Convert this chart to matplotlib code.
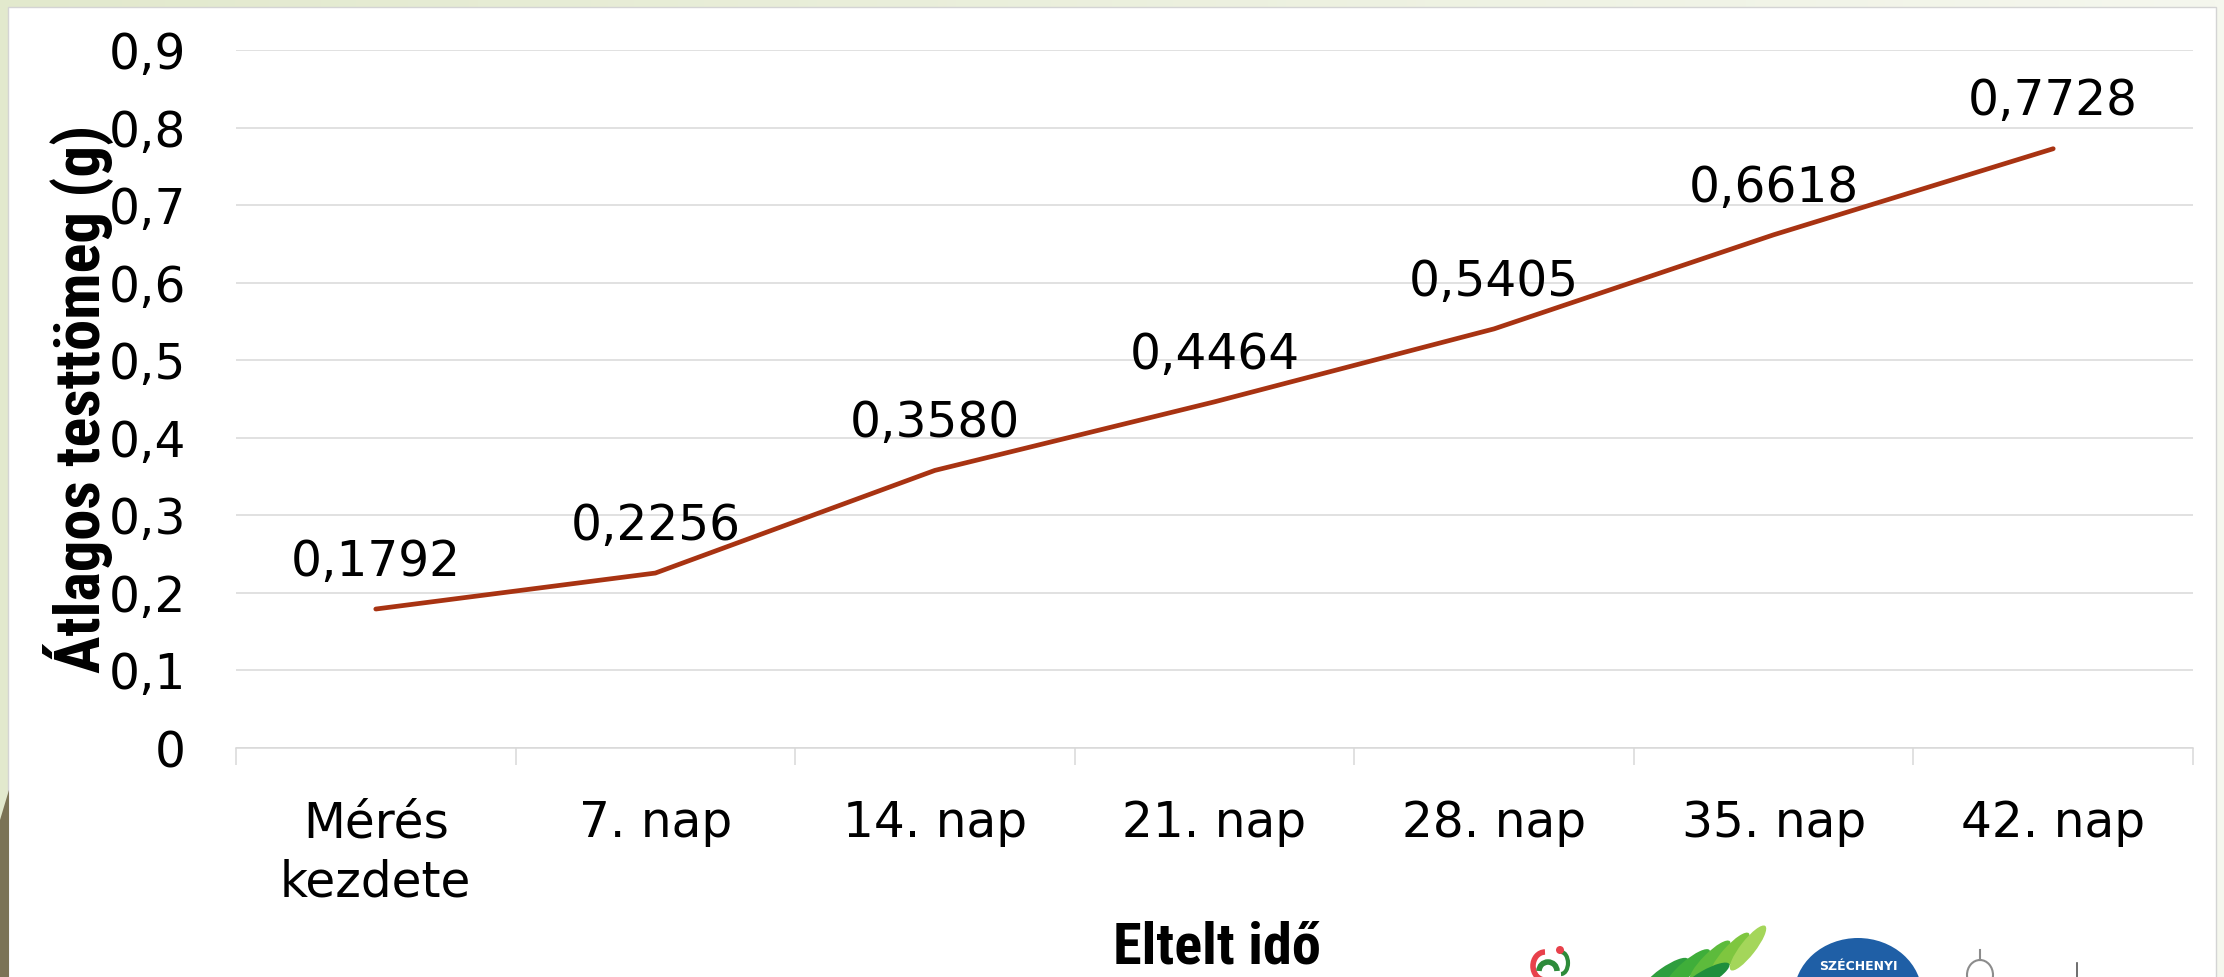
import matplotlib
matplotlib.use("Agg")
import matplotlib.pyplot as plt
import numpy as np
from matplotlib import font_manager
from matplotlib.colors import LinearSegmentedColormap
from matplotlib.patches import Ellipse, Polygon, Rectangle, Arc
from matplotlib.ticker import FixedLocator, FuncFormatter

# --- data -------------------------------------------------------------------
categories = ["Mérés\nkezdete", "7. nap", "14. nap", "21. nap",
              "28. nap", "35. nap", "42. nap"]
mean_weight = [0.1792, 0.2256, 0.3580, 0.4464, 0.5405, 0.6618, 0.7728]
y_ticks = [0.0, 0.1, 0.2, 0.3, 0.4, 0.5, 0.6, 0.7, 0.8, 0.9]

y_title = "Átlagos testtömeg (g)"
x_title = "Eltelt idő"

# --- fonts ------------------------------------------------------------------
body_font = "DejaVu Sans"


def pick_narrow_bold():
    """Return (FontProperties kwargs, size scale) for a condensed bold face."""
    names = {f.name for f in font_manager.fontManager.ttflist}
    for fam in ("Liberation Sans Narrow", "Roboto Condensed",
                "Open Sans Condensed", "DejaVu Sans Condensed"):
        if fam in names:
            return {"family": [fam, "DejaVu Sans"]}, 1.0
    fp = font_manager.FontProperties(family="DejaVu Sans", weight="bold",
                                     stretch="condensed")
    path = font_manager.findfont(fp, fallback_to_default=True)
    if "Condensed" in path:
        return {"family": ["DejaVu Sans"], "fontstretch": "condensed"}, 1.0
    return {"family": ["DejaVu Sans"]}, 0.83


narrow_kw, narrow_scale = pick_narrow_bold()

W, H = 2224, 977
fig = plt.figure(figsize=(W / 100, H / 100), dpi=100)

# --- slide background (pixel coordinates, y down) ----------------------------
deco = fig.add_axes([0, 0, 1, 1], zorder=0)
deco.set_xlim(0, W)
deco.set_ylim(H, 0)
deco.axis("off")

bg = LinearSegmentedColormap.from_list("bg", ["#E2E9CD", "#F5F7EE"])
deco.imshow(np.linspace(0, 1, 256)[None, :], cmap=bg, aspect="auto",
            extent=(0, W, H, 0), zorder=0)
deco.add_patch(Rectangle((8, 7), 2208, H, facecolor="white",
                         edgecolor="#D4D4D4", linewidth=1.0, zorder=1))
deco.add_patch(Polygon([(0, 820), (9, 790), (9, H), (0, H)],
                       closed=True, facecolor="#7B7355", edgecolor="none", zorder=2))

# logo strip along the bottom edge
deco.add_patch(Arc((1545, 966), 24, 28, theta1=90, theta2=270,
                   color="#E8414B", linewidth=4, zorder=3))
deco.add_patch(Arc((1548, 971), 18, 18, theta1=180, theta2=360,
                   color="#2E8B3A", linewidth=4, zorder=3))
deco.add_patch(Arc((1561, 963), 14, 22, theta1=-90, theta2=90,
                   color="#2E8B3A", linewidth=3, zorder=3))
deco.add_patch(Ellipse((1560, 950), 8, 8, facecolor="#E8414B",
                       edgecolor="none", zorder=3))
for cx, cy, ang, col in [(1665, 975, 35, "#2E9E3E"), (1688, 968, 40, "#3FAE3A"),
                         (1710, 961, 45, "#5DBB3C"), (1730, 954, 48, "#7EC63F"),
                         (1748, 948, 52, "#A4D65A"), (1705, 978, 30, "#1F8E3C")]:
    deco.add_patch(Ellipse((cx, cy), 56, 15, angle=-ang, facecolor=col,
                           edgecolor="none", zorder=3))
deco.add_patch(Ellipse((1858, 995), 128, 114, facecolor="#1F5FA6",
                       edgecolor="none", zorder=3))
deco.text(1858, 966, "SZÉCHENYI", color="white", fontsize=9, fontweight="bold",
          ha="center", va="center", zorder=4)
deco.add_patch(Ellipse((1980, 975), 26, 30, facecolor="none",
                       edgecolor="#8C8C8C", linewidth=1.5, zorder=3))
deco.plot([1980, 1980], [950, 960], color="#8C8C8C", linewidth=1.5, zorder=3)
deco.plot([2077, 2077], [963, H], color="#555555", linewidth=1.2, zorder=3)

# --- chart ------------------------------------------------------------------
ax = fig.add_axes([236 / W, 1 - 748 / H, (2193 - 236) / W, (748 - 50) / H], zorder=1)
ax.set_facecolor("white")

x = np.arange(len(categories))
ax.plot(x, mean_weight, color="#A83312", linewidth=3.4,
        solid_capstyle="round", solid_joinstyle="round", zorder=3)

for xi, v in zip(x, mean_weight):
    ax.annotate(f"{v:.4f}".replace(".", ","), (xi, v),
                xytext=(0, 34), textcoords="offset points",
                ha="center", va="center", fontsize=35, family=body_font,
                color="black", zorder=4)

ax.set_xlim(-0.5, len(categories) - 0.5)
ax.set_ylim(0, 0.9 + 1e-4)

ax.yaxis.set_major_locator(FixedLocator(y_ticks))
ax.yaxis.set_major_formatter(
    FuncFormatter(lambda v, _: "0" if v == 0 else f"{v:.1f}".replace(".", ",")))
ax.grid(axis="y", color="#D9D9D9", linewidth=1.1, zorder=1)
ax.tick_params(axis="y", length=0, pad=36, labelsize=35)

ax.set_xticks(x)
ax.set_xticklabels(categories, fontsize=35, linespacing=1.3)
ax.set_xticks(np.arange(-0.5, len(categories)), minor=True)
ax.tick_params(axis="x", which="major", length=0, pad=37)
ax.tick_params(axis="x", which="minor", length=12, width=1.1, color="#D9D9D9")

for side in ("top", "right", "left"):
    ax.spines[side].set_visible(False)
ax.spines["bottom"].set_color("#D9D9D9")
ax.spines["bottom"].set_linewidth(1.1)
ax.spines["bottom"].set_zorder(2)

for lab in ax.get_xticklabels() + ax.get_yticklabels():
    lab.set_family(body_font)

fig.text(78 / W, 1 - 399 / H, y_title, rotation=90, ha="center", va="center",
         fontsize=45 * narrow_scale, fontweight="bold", **narrow_kw)
fig.text(1217 / W, 1 - 964 / H, x_title, ha="center", va="baseline",
         fontsize=42 * narrow_scale, fontweight="bold", **narrow_kw)

fig.savefig("out.png", dpi=100, facecolor="white")
